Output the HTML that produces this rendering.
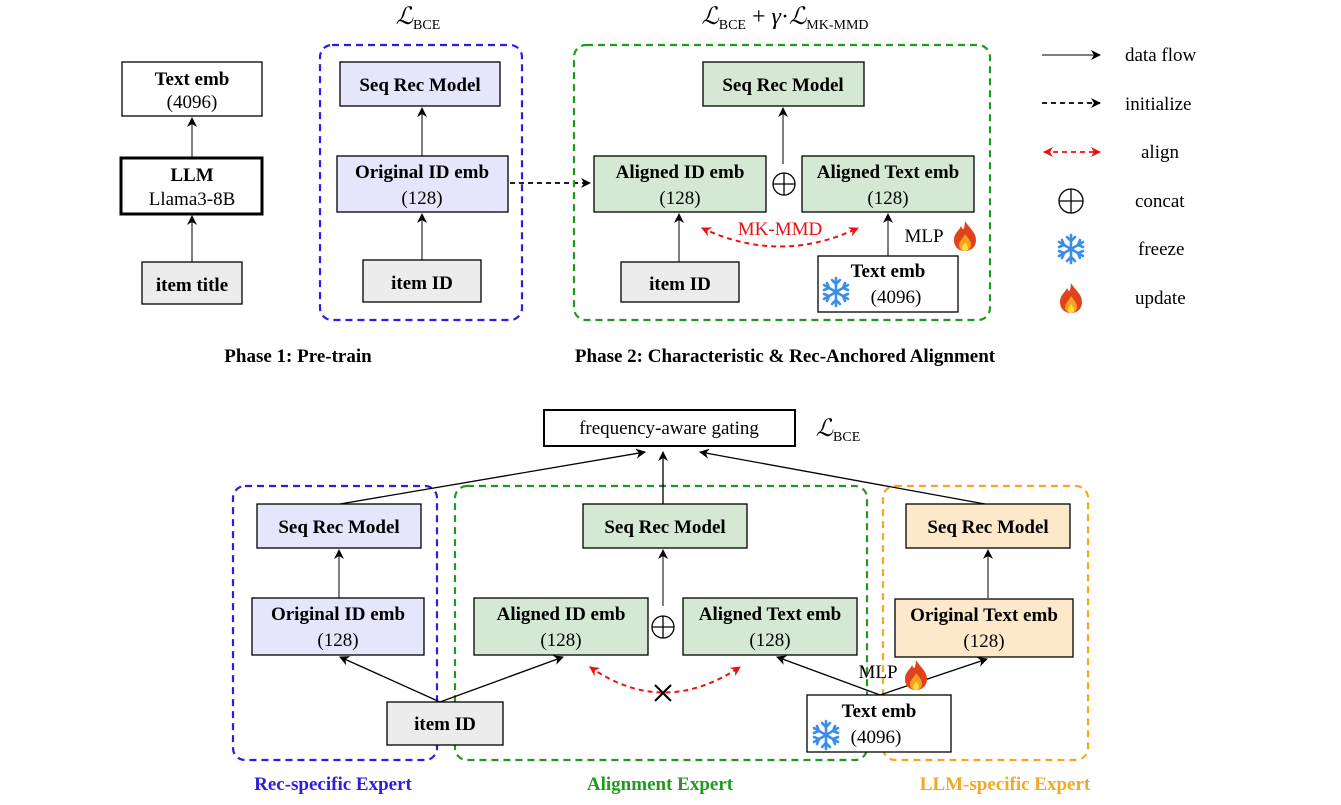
<!DOCTYPE html>
<html><head><meta charset="utf-8"><style>
html,body{margin:0;padding:0;background:#fff;}
svg{display:block;}
text{font-family:"Liberation Serif",serif;}
.b{font-weight:bold;font-size:19px;}
.n{font-size:19px;}
</style></head><body>
<svg width="1341" height="805" viewBox="0 0 1341 805" xmlns="http://www.w3.org/2000/svg">
<defs>
<marker id="ah" markerWidth="10" markerHeight="10" refX="9" refY="5" orient="auto" markerUnits="userSpaceOnUse"><path d="M0,0 L10,5 L0,10 L3,5 z" fill="#000"/></marker>
<marker id="ahr" markerWidth="10" markerHeight="10" refX="9" refY="5" orient="auto-start-reverse" markerUnits="userSpaceOnUse"><path d="M0,0 L10,5 L0,10 L3,5 z" fill="#e11"/></marker>
<g id="snow" stroke="#3b8ee8" stroke-width="2.6" stroke-linecap="round" fill="none">
<line x1="0" y1="-14" x2="0" y2="14"/><line x1="-12" y1="-7" x2="12" y2="7"/><line x1="-12" y1="7" x2="12" y2="-7"/>
<path d="M-4,-12 L0,-8 L4,-12 M-4,12 L0,8 L4,12 M-12,-2 L-7,-4 L-9,-9 M12,2 L7,4 L9,9 M-12,2 L-7,4 L-9,9 M12,-2 L7,-4 L9,-9"/>
</g>
<g id="flame">
<path d="M0,-15 C4,-8 11,-4 11,4 C11,11 6,15 0,15 C-6,15 -11,11 -11,4 C-11,-3 -6,-5 -4,-10 C-2,-6 -1,-4 0,-15 z" fill="#e0431b"/>
<path d="M0,-2 C3,2 6,5 6,9 C6,13 3,15 0,15 C-3,15 -6,13 -6,9 C-6,5 -2,3 0,-2 z" fill="#f7a21b"/>
<path d="M0,6 C2,9 3,10 3,12 C3,14 1.5,15 0,15 C-1.5,15 -3,14 -3,12 C-3,10 -1,9 0,6 z" fill="#ffd84a"/>
</g>
</defs>

<!-- Phase 1 left column -->
<rect x="122" y="62" width="140" height="54" fill="#fff" stroke="#000" stroke-width="1.3"/>
<text x="192" y="85" class="b" text-anchor="middle">Text emb</text>
<text x="192" y="108" class="n" text-anchor="middle">(4096)</text>
<line x1="192" y1="158" x2="192" y2="118" stroke="#000" marker-end="url(#ah)"/>
<rect x="121" y="158" width="141" height="56" fill="#fff" stroke="#000" stroke-width="3"/>
<text x="192" y="181" class="b" text-anchor="middle">LLM</text>
<text x="192" y="205" class="n" text-anchor="middle">Llama3-8B</text>
<line x1="192" y1="262" x2="192" y2="216" stroke="#000" marker-end="url(#ah)"/>
<rect x="142" y="262" width="100" height="42" fill="#ececec" stroke="#000" stroke-width="1.3"/>
<text x="192" y="291" class="b" text-anchor="middle">item title</text>

<!-- Phase 1 blue -->
<text x="418" y="24" font-size="24" font-style="italic" text-anchor="middle">ℒ<tspan font-size="14" font-style="normal" dy="5">BCE</tspan></text>
<rect x="320" y="45" width="202" height="275" rx="12" fill="none" stroke="#2b1ee0" stroke-width="2.2" stroke-dasharray="7,5"/>
<rect x="340" y="62" width="160" height="44" fill="#e5e5fb" stroke="#000" stroke-width="1.3"/>
<text x="420" y="91" class="b" text-anchor="middle">Seq Rec Model</text>
<line x1="422" y1="156" x2="422" y2="108" stroke="#000" marker-end="url(#ah)"/>
<rect x="337" y="156" width="171" height="56" fill="#e5e5fb" stroke="#000" stroke-width="1.3"/>
<text x="422" y="178" class="b" text-anchor="middle">Original ID emb</text>
<text x="422" y="204" class="n" text-anchor="middle">(128)</text>
<line x1="422" y1="260" x2="422" y2="214" stroke="#000" marker-end="url(#ah)"/>
<rect x="363" y="260" width="118" height="42" fill="#ececec" stroke="#000" stroke-width="1.3"/>
<text x="422" y="289" class="b" text-anchor="middle">item ID</text>
<line x1="510" y1="183" x2="590" y2="183" stroke="#000" stroke-width="1.8" stroke-dasharray="5,4" marker-end="url(#ah)"/>

<!-- Phase 2 green -->
<text x="785" y="24" font-size="24" font-style="italic" text-anchor="middle">ℒ<tspan font-size="14" font-style="normal" dy="5">BCE</tspan><tspan dy="-5" font-style="normal"> + </tspan>γ<tspan font-style="normal">·</tspan>ℒ<tspan font-size="14" font-style="normal" dy="5">MK-MMD</tspan></text>
<rect x="574" y="45" width="416" height="275" rx="12" fill="none" stroke="#1f9a1f" stroke-width="2.2" stroke-dasharray="7,5"/>
<rect x="703" y="62" width="161" height="44" fill="#d5e8d4" stroke="#000" stroke-width="1.3"/>
<text x="783" y="91" class="b" text-anchor="middle">Seq Rec Model</text>
<line x1="783" y1="164" x2="783" y2="108" stroke="#000" marker-end="url(#ah)"/>
<rect x="594" y="156" width="172" height="56" fill="#d5e8d4" stroke="#000" stroke-width="1.3"/>
<text x="680" y="178" class="b" text-anchor="middle">Aligned ID emb</text>
<text x="680" y="204" class="n" text-anchor="middle">(128)</text>
<circle cx="784" cy="184" r="11" fill="none" stroke="#000" stroke-width="1.3"/>
<line x1="773" y1="184" x2="795" y2="184" stroke="#000" stroke-width="1.3"/><line x1="784" y1="173" x2="784" y2="195" stroke="#000" stroke-width="1.3"/>
<rect x="802" y="156" width="172" height="56" fill="#d5e8d4" stroke="#000" stroke-width="1.3"/>
<text x="888" y="178" class="b" text-anchor="middle">Aligned Text emb</text>
<text x="888" y="204" class="n" text-anchor="middle">(128)</text>
<line x1="679" y1="262" x2="679" y2="214" stroke="#000" marker-end="url(#ah)"/>
<rect x="621" y="262" width="118" height="40" fill="#ececec" stroke="#000" stroke-width="1.3"/>
<text x="680" y="290" class="b" text-anchor="middle">item ID</text>
<line x1="888" y1="256" x2="888" y2="214" stroke="#000" marker-end="url(#ah)"/>
<rect x="818" y="256" width="140" height="56" fill="#fff" stroke="#000" stroke-width="1.3"/>
<text x="888" y="277" class="b" text-anchor="middle">Text emb</text>
<text x="896" y="303" class="n" text-anchor="middle">(4096)</text>
<use href="#snow" x="836" y="292"/>
<path d="M702,228 Q780,265 858,228" fill="none" stroke="#e11" stroke-width="2" stroke-dasharray="5,4" marker-start="url(#ahr)" marker-end="url(#ahr)"/>
<text x="780" y="235" font-size="19" fill="#e11" text-anchor="middle">MK-MMD</text>
<text x="924" y="242" class="n" text-anchor="middle">MLP</text>
<use href="#flame" x="965" y="236"/>

<!-- Legend -->
<line x1="1042" y1="55" x2="1100" y2="55" stroke="#000" marker-end="url(#ah)"/>
<text x="1125" y="61" class="n">data flow</text>
<line x1="1042" y1="103" x2="1100" y2="103" stroke="#000" stroke-width="1.8" stroke-dasharray="5,4" marker-end="url(#ah)"/>
<text x="1125" y="110" class="n">initialize</text>
<line x1="1044" y1="152" x2="1100" y2="152" stroke="#e11" stroke-width="1.8" stroke-dasharray="5,4" marker-start="url(#ahr)" marker-end="url(#ahr)"/>
<text x="1141" y="158" class="n">align</text>
<circle cx="1071" cy="201" r="12" fill="none" stroke="#000" stroke-width="1.3"/>
<line x1="1059" y1="201" x2="1083" y2="201" stroke="#000" stroke-width="1.3"/><line x1="1071" y1="189" x2="1071" y2="213" stroke="#000" stroke-width="1.3"/>
<text x="1135" y="207" class="n">concat</text>
<use href="#snow" x="1071" y="249"/>
<text x="1138" y="255" class="n">freeze</text>
<use href="#flame" x="1071" y="298"/>
<text x="1135" y="304" class="n">update</text>

<text x="298" y="362" class="b" text-anchor="middle">Phase 1: Pre-train</text>
<text x="785" y="362" class="b" text-anchor="middle">Phase 2: Characteristic &amp; Rec-Anchored Alignment</text>

<!-- Bottom -->
<rect x="544" y="410" width="251" height="36" fill="#fff" stroke="#000" stroke-width="2"/>
<text x="669" y="434" class="n" text-anchor="middle">frequency-aware gating</text>
<text x="838" y="436" font-size="24" font-style="italic" text-anchor="middle">ℒ<tspan font-size="14" font-style="normal" dy="5">BCE</tspan></text>

<rect x="233" y="486" width="204" height="274" rx="12" fill="none" stroke="#2b1ee0" stroke-width="2.2" stroke-dasharray="7,5"/>
<rect x="455" y="486" width="412" height="274" rx="12" fill="none" stroke="#1f9a1f" stroke-width="2.2" stroke-dasharray="7,5"/>
<rect x="883" y="486" width="205" height="274" rx="12" fill="none" stroke="#f5a623" stroke-width="2.2" stroke-dasharray="7,5"/>

<line x1="340" y1="504" x2="645" y2="452" stroke="#000" stroke-width="1.3" marker-end="url(#ah)"/>
<line x1="663" y1="504" x2="663" y2="452" stroke="#000" stroke-width="1.3" marker-end="url(#ah)"/>
<line x1="985" y1="504" x2="700" y2="452" stroke="#000" stroke-width="1.3" marker-end="url(#ah)"/>

<rect x="257" y="504" width="164" height="44" fill="#e5e5fb" stroke="#000" stroke-width="1.3"/>
<text x="339" y="533" class="b" text-anchor="middle">Seq Rec Model</text>
<rect x="583" y="504" width="164" height="44" fill="#d5e8d4" stroke="#000" stroke-width="1.3"/>
<text x="665" y="533" class="b" text-anchor="middle">Seq Rec Model</text>
<rect x="906" y="504" width="164" height="44" fill="#fde9c9" stroke="#000" stroke-width="1.3"/>
<text x="988" y="533" class="b" text-anchor="middle">Seq Rec Model</text>

<line x1="339" y1="598" x2="339" y2="550" stroke="#000" marker-end="url(#ah)"/>
<line x1="663" y1="606" x2="663" y2="550" stroke="#000" marker-end="url(#ah)"/>
<line x1="988" y1="598" x2="988" y2="550" stroke="#000" marker-end="url(#ah)"/>

<rect x="252" y="598" width="172" height="57" fill="#e5e5fb" stroke="#000" stroke-width="1.3"/>
<text x="338" y="620" class="b" text-anchor="middle">Original ID emb</text>
<text x="338" y="646" class="n" text-anchor="middle">(128)</text>
<rect x="474" y="598" width="174" height="57" fill="#d5e8d4" stroke="#000" stroke-width="1.3"/>
<text x="561" y="620" class="b" text-anchor="middle">Aligned ID emb</text>
<text x="561" y="646" class="n" text-anchor="middle">(128)</text>
<circle cx="663" cy="627" r="11" fill="none" stroke="#000" stroke-width="1.3"/>
<line x1="652" y1="627" x2="674" y2="627" stroke="#000" stroke-width="1.3"/><line x1="663" y1="616" x2="663" y2="638" stroke="#000" stroke-width="1.3"/>
<rect x="683" y="598" width="174" height="57" fill="#d5e8d4" stroke="#000" stroke-width="1.3"/>
<text x="770" y="620" class="b" text-anchor="middle">Aligned Text emb</text>
<text x="770" y="646" class="n" text-anchor="middle">(128)</text>
<rect x="895" y="599" width="178" height="58" fill="#fde9c9" stroke="#000" stroke-width="1.3"/>
<text x="984" y="621" class="b" text-anchor="middle">Original Text emb</text>
<text x="984" y="647" class="n" text-anchor="middle">(128)</text>

<line x1="440" y1="702" x2="340" y2="657" stroke="#000" stroke-width="1.3" marker-end="url(#ah)"/>
<line x1="440" y1="702" x2="563" y2="657" stroke="#000" stroke-width="1.3" marker-end="url(#ah)"/>
<line x1="880" y1="695" x2="777" y2="657" stroke="#000" stroke-width="1.3" marker-end="url(#ah)"/>
<line x1="880" y1="695" x2="987" y2="659" stroke="#000" stroke-width="1.3" marker-end="url(#ah)"/>

<rect x="387" y="702" width="116" height="43" fill="#ececec" stroke="#000" stroke-width="1.3"/>
<text x="445" y="730" class="b" text-anchor="middle">item ID</text>
<rect x="807" y="695" width="144" height="57" fill="#fff" stroke="#000" stroke-width="1.3"/>
<text x="879" y="717" class="b" text-anchor="middle">Text emb</text>
<text x="876" y="743" class="n" text-anchor="middle">(4096)</text>
<use href="#snow" x="826" y="735"/>
<text x="878" y="678" class="n" text-anchor="middle">MLP</text>
<use href="#flame" x="916" y="675"/>

<path d="M590,667 Q663,718 740,667" fill="none" stroke="#e11" stroke-width="2" stroke-dasharray="5,4" marker-start="url(#ahr)" marker-end="url(#ahr)"/>
<line x1="655" y1="685" x2="671" y2="701" stroke="#000" stroke-width="2"/><line x1="671" y1="685" x2="655" y2="701" stroke="#000" stroke-width="2"/>

<text x="333" y="790" class="b" fill="#2b1ee0" text-anchor="middle">Rec-specific Expert</text>
<text x="660" y="790" class="b" fill="#1f9a1f" text-anchor="middle">Alignment Expert</text>
<text x="1005" y="790" class="b" fill="#f5a623" text-anchor="middle">LLM-specific Expert</text>
</svg>
</body></html>
